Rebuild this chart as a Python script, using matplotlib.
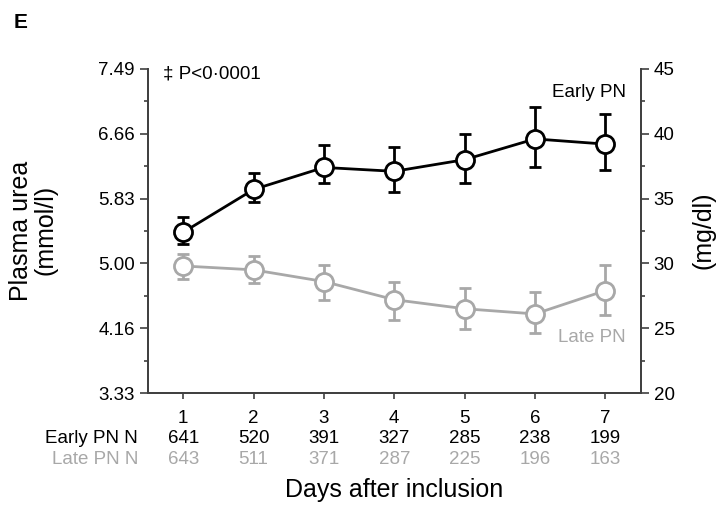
import numpy as np
import matplotlib
matplotlib.use('Agg')
import matplotlib.pyplot as plt
from matplotlib.ticker import MultipleLocator, FixedLocator

plt.rcParams['font.family'] = ['Liberation Sans', 'DejaVu Sans']

MGDL_PER_MMOL = 6.006

days = [1, 2, 3, 4, 5, 6, 7]
early_n = [641, 520, 391, 327, 285, 238, 199]
late_n = [643, 511, 371, 287, 225, 196, 163]

# plasma urea in mg/dl with lower/upper error bar ends
early_mean = [32.4, 35.7, 37.4, 37.1, 38.0, 39.6, 39.2]
early_lo = [31.5, 34.7, 36.2, 35.5, 36.2, 37.4, 37.2]
early_hi = [33.6, 37.0, 39.1, 39.0, 40.0, 42.1, 41.5]
late_mean = [29.8, 29.5, 28.6, 27.2, 26.5, 26.1, 27.9]
late_lo = [28.8, 28.5, 27.2, 25.6, 24.9, 24.6, 26.0]
late_hi = [30.7, 30.6, 29.9, 28.6, 28.1, 27.8, 29.9]

BLACK = 'black'
GREY = '#a8a8a8'
SPINE = '#404040'

fig = plt.figure(figsize=(7.2, 5.12), dpi=100)
ax = fig.add_axes([0.2056, 0.2324, 0.684, 0.633])
ax2 = ax.twinx()

for a in (ax, ax2):
    a.spines['top'].set_visible(False)
    for s in ('left', 'right', 'bottom'):
        a.spines[s].set_color(SPINE)
        a.spines[s].set_linewidth(1.3)
    a.tick_params(which='major', length=6, width=1.2, color=SPINE, labelsize=13.5)
    a.tick_params(which='minor', length=3, width=1.2, color=SPINE)

ax2.set_ylim(20, 45)
ax2.yaxis.set_major_locator(MultipleLocator(5))
ax2.yaxis.set_minor_locator(MultipleLocator(2.5))

ax.set_ylim(20 / MGDL_PER_MMOL, 45 / MGDL_PER_MMOL)
mg_ticks = np.arange(20, 46, 5)
ax.yaxis.set_major_locator(FixedLocator(mg_ticks / MGDL_PER_MMOL))
ax.set_yticklabels([f'{t / MGDL_PER_MMOL:.2f}' for t in mg_ticks])
ax.yaxis.set_minor_locator(FixedLocator((mg_ticks[:-1] + 2.5) / MGDL_PER_MMOL))

ax.set_xlim(0.5, 7.5)
ax.set_xticks(days)
ax.set_xticklabels([str(d) for d in days])
ax.tick_params(axis='x', length=4, pad=8)

def draw(mean, lo, hi, color):
    mean = np.array(mean)
    yerr = [mean - np.array(lo), np.array(hi) - mean]
    ax2.errorbar(days, mean, yerr=yerr, color=color, lw=2, elinewidth=2,
                 capsize=4, capthick=2, marker='o', ms=13, mfc='white',
                 mec=color, mew=2, zorder=3)

draw(late_mean, late_lo, late_hi, GREY)
draw(early_mean, early_lo, early_hi, BLACK)

# N rows under the x axis
trans = ax.get_xaxis_transform()
ax.text(-0.02, -0.14, 'Early PN N', transform=ax.transAxes, ha='right',
        va='center', fontsize=13.5, color=BLACK)
ax.text(-0.02, -0.205, 'Late PN N', transform=ax.transAxes, ha='right',
        va='center', fontsize=13.5, color=GREY)
for d, ne, nl in zip(days, early_n, late_n):
    ax.text(d, -0.14, str(ne), transform=trans, ha='center', va='center',
            fontsize=13.5, color=BLACK)
    ax.text(d, -0.205, str(nl), transform=trans, ha='center', va='center',
            fontsize=13.5, color=GREY)

fig.text(0.547, 0.043, 'Days after inclusion', ha='center', va='center',
         fontsize=18)
fig.text(0.046, 0.55, 'Plasma urea\n(mmol/l)', ha='center', va='center',
         rotation=90, fontsize=18, linespacing=1.05)
fig.text(0.977, 0.55, '(mg/dl)', ha='center', va='center', rotation=90,
         fontsize=18)

ax.text(0.03, 0.985, '\u2021 P<0\u00b70001', transform=ax.transAxes,
        ha='left', va='center', fontsize=13.5)
ax2.text(7.29, 43.2, 'Early PN', ha='right', va='center', fontsize=13.5,
         color=BLACK)
ax2.text(7.29, 24.3, 'Late PN', ha='right', va='center', fontsize=13.5,
         color=GREY)

fig.text(0.019, 0.957, 'E', fontsize=15, fontweight='bold', va='center')

fig.savefig('out.png', dpi=100)
